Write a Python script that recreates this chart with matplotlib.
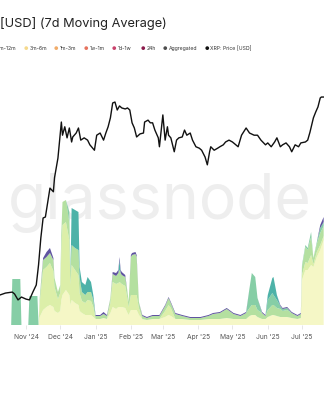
import matplotlib
matplotlib.use("Agg")
import matplotlib.pyplot as plt
import matplotlib.dates as mdates
import pandas as pd

plt.rcParams['font.family'] = ['Inter', 'DejaVu Sans']

# XRP price (USD)
price_dates = [
    "2024-10-08", "2024-10-09", "2024-10-14", "2024-10-20", "2024-10-22", "2024-10-25",
    "2024-10-28", "2024-11-01", "2024-11-04", "2024-11-07", "2024-11-10", "2024-11-12",
    "2024-11-14", "2024-11-16", "2024-11-18", "2024-11-22", "2024-11-25", "2024-11-26",
    "2024-11-29", "2024-12-02", "2024-12-03", "2024-12-05", "2024-12-07", "2024-12-09",
    "2024-12-11", "2024-12-12", "2024-12-15", "2024-12-17", "2024-12-19", "2024-12-22",
    "2024-12-25", "2024-12-27", "2024-12-31", "2025-01-02", "2025-01-05", "2025-01-08",
    "2025-01-10", "2025-01-12", "2025-01-14", "2025-01-16", "2025-01-18", "2025-01-20",
    "2025-01-22", "2025-01-24", "2025-01-27", "2025-01-29", "2025-01-31", "2025-02-02",
    "2025-02-04", "2025-02-06", "2025-02-09", "2025-02-12", "2025-02-13", "2025-02-16",
    "2025-02-18", "2025-02-20", "2025-02-22", "2025-02-25", "2025-02-26", "2025-03-01",
    "2025-03-03", "2025-03-05", "2025-03-06", "2025-03-08", "2025-03-11", "2025-03-13",
    "2025-03-15", "2025-03-18", "2025-03-20", "2025-03-22", "2025-03-25", "2025-03-27",
    "2025-03-30", "2025-04-02", "2025-04-04", "2025-04-07", "2025-04-09", "2025-04-11",
    "2025-04-12", "2025-04-15", "2025-04-18", "2025-04-20", "2025-04-23", "2025-04-25",
    "2025-04-28", "2025-05-01", "2025-05-03", "2025-05-06", "2025-05-09", "2025-05-13",
    "2025-05-16", "2025-05-20", "2025-05-23", "2025-05-26", "2025-05-30", "2025-06-01",
    "2025-06-04", "2025-06-07", "2025-06-09", "2025-06-12", "2025-06-14", "2025-06-17",
    "2025-06-20", "2025-06-22", "2025-06-25", "2025-06-28", "2025-06-30", "2025-07-04",
    "2025-07-06", "2025-07-08", "2025-07-11", "2025-07-13", "2025-07-15", "2025-07-17",
    "2025-07-18", "2025-07-21",
]
price_usd = [
    0.53, 0.530, 0.540, 0.545, 0.535, 0.506,
    0.520, 0.510, 0.506, 0.545, 0.583, 0.705,
    0.910, 1.10, 1.11, 1.46, 1.41, 1.61,
    1.94, 2.73, 2.41, 2.61, 2.35, 2.58,
    2.26, 2.37, 2.46, 2.58, 2.30, 2.35,
    2.30, 2.20, 2.09, 2.41, 2.46, 2.30,
    2.46, 2.61, 2.84, 3.27, 3.30, 3.06,
    3.18, 3.12, 3.09, 3.12, 3.06, 2.71,
    2.58, 2.37, 2.44, 2.46, 2.73, 2.78,
    2.71, 2.71, 2.53, 2.35, 2.16, 2.92,
    2.30, 2.61, 2.41, 2.35, 2.06, 2.30,
    2.35, 2.37, 2.53, 2.41, 2.46, 2.30,
    2.16, 2.13, 2.09, 1.96, 1.82, 2.06,
    2.16, 2.09, 2.13, 2.16, 2.20, 2.26,
    2.30, 2.26, 2.22, 2.16, 2.41, 2.58,
    2.46, 2.41, 2.41, 2.30, 2.20, 2.24,
    2.16, 2.26, 2.35, 2.16, 2.20, 2.24,
    2.16, 2.06, 2.20, 2.16, 2.24, 2.26,
    2.30, 2.48, 2.84, 3.00, 3.15, 3.43,
    3.46, 3.46,
]

# stacked cohort values [USD M], 7d moving average
area_dates = [
    "2024-10-19", "2024-10-20", "2024-10-27", "2024-10-28",
    "2024-11-03", "2024-11-04", "2024-11-11", "2024-11-12",
    "2024-11-13", "2024-11-16", "2024-11-19", "2024-11-22", "2024-11-25", "2024-11-26", "2024-11-29",
    "2024-12-01", "2024-12-02", "2024-12-03", "2024-12-06", "2024-12-09", "2024-12-10", "2024-12-11",
    "2024-12-14", "2024-12-17", "2024-12-18", "2024-12-20", "2024-12-23", "2024-12-25", "2024-12-28",
    "2024-12-30",
    "2025-01-01", "2025-01-05", "2025-01-08", "2025-01-11", "2025-01-14", "2025-01-16", "2025-01-19",
    "2025-01-21", "2025-01-22", "2025-01-23", "2025-01-24", "2025-01-27", "2025-01-29", "2025-01-30",
    "2025-02-01", "2025-02-02", "2025-02-05", "2025-02-06", "2025-02-08", "2025-02-11", "2025-02-15",
    "2025-02-20", "2025-02-26",
    "2025-03-03", "2025-03-06", "2025-03-08", "2025-03-12", "2025-03-18", "2025-03-25",
    "2025-04-03", "2025-04-10", "2025-04-14", "2025-04-20", "2025-04-26",
    "2025-05-02", "2025-05-08", "2025-05-13", "2025-05-16", "2025-05-18", "2025-05-21", "2025-05-23",
    "2025-05-27", "2025-05-30",
    "2025-06-01", "2025-06-05", "2025-06-06", "2025-06-09", "2025-06-12", "2025-06-14", "2025-06-18",
    "2025-06-22", "2025-06-27", "2025-06-30",
    "2025-07-01", "2025-07-04", "2025-07-06", "2025-07-09", "2025-07-11", "2025-07-14", "2025-07-17",
    "2025-07-20",
]
vol_6m_12m = [
    0, 0, 0, 0,
    0, 0, 0, 0,
    8, 15, 18, 20, 18, 14, 12,
    14, 25, 30, 35, 30, 20, 25,
    22, 20, 14, 12, 10, 10, 10,
    8,
    6, 6, 7, 6, 12, 18, 16,
    18, 18, 18, 18, 17, 12, 10,
    15, 15, 15, 15, 10, 6, 5,
    6, 6,
    8, 10, 9, 6, 6, 5,
    5, 6, 6, 6, 7,
    6, 6, 6, 9, 10, 10, 8,
    6, 6,
    8, 10, 10, 9, 8, 8, 8,
    7, 6, 7,
    45, 55, 55, 60, 58, 68, 75,
    85,
]
vol_1y_2y = [
    0, 0, 0, 0,
    0, 0, 0, 0,
    14, 40, 40, 42, 36, 24, 14,
    18, 50, 70, 68, 55, 20, 35,
    33, 30, 18, 12, 12, 15, 14,
    10,
    0, 0, 0, 0, 10, 25, 25,
    24, 25, 24, 23, 22, 14, 8,
    15, 15, 15, 15, 7, 0, 0,
    0, 0,
    6, 10, 8, 0, 0, 0,
    0, 0, 0, 0, 0,
    0, 0, 0, 0, 0, 0, 0,
    0, 0,
    0, 0, 0, 0, 0, 0, 0,
    0, 0, 0,
    5, 8, 7, 10, 3, 5, 5,
    4,
]
vol_2y_3y = [
    0, 0, 0, 0,
    0, 0, 0, 0,
    5, 10, 10, 10, 11, 9, 7,
    8, 18, 23, 22, 18, 13, 20,
    22, 25, 16, 9, 8, 8, 9,
    7,
    3, 3, 4, 3, 5, 8, 8,
    10, 12, 10, 9, 9, 7, 5,
    38, 40, 41, 38, 6, 3, 2,
    3, 3,
    5, 7, 5, 5, 3, 2,
    2, 3, 5, 6, 9,
    5, 3, 6, 8, 10, 10, 7,
    6, 3,
    7, 10, 10, 8, 8, 6, 7,
    5, 3, 4,
    8, 15, 13, 18, 6, 8, 12,
    10,
]
vol_3y_5y = [
    0, 46, 46, 0,
    0, 29, 29, 0,
    0, 0, 0, 0, 0, 0, 0,
    0, 0, 0, 0, 10, 0, 0,
    0, 0, 0, 0, 0, 0, 0,
    0,
    0, 0, 0, 0, 0, 0, 0,
    0, 0, 0, 0, 0, 0, 0,
    0, 0, 0, 0, 0, 0, 0,
    0, 0,
    0, 0, 0, 0, 0, 0,
    0, 0, 0, 0, 0,
    0, 0, 0, 20, 32, 28, 12,
    0, 0,
    10, 12, 10, 8, 3, 2, 2,
    0, 0, 0,
    2, 2, 2, 5, 0, 2, 5,
    4,
]
vol_5y_7y = [
    0, 0, 0, 0,
    0, 0, 0, 0,
    0, 0, 0, 0, 0, 0, 0,
    0, 0, 0, 0, 0, 0, 37,
    38, 38, 10, 10, 10, 15, 10,
    5,
    0, 0, 0, 0, 0, 0, 0,
    0, 10, 0, 0, 0, 0, 0,
    0, 0, 0, 0, 0, 0, 0,
    0, 0,
    0, 0, 0, 0, 0, 0,
    0, 0, 0, 0, 0,
    0, 0, 0, 0, 0, 0, 0,
    0, 0,
    5, 15, 18, 5, 0, 0, 0,
    0, 0, 0,
    0, 0, 0, 0, 0, 0, 0,
    0,
]
vol_7y_10y = [
    0, 0, 0, 0,
    0, 0, 0, 0,
    0, 2, 5, 5, 2, 0, 0,
    0, 0, 0, 0, 0, 0, 0,
    0, 0, 0, 0, 0, 0, 0,
    0,
    1, 1, 2, 1, 0, 2, 3,
    3, 3, 3, 3, 2, 0, 0,
    2, 2, 2, 2, 0, 1, 1,
    1, 1,
    1, 1, 1, 1, 1, 1,
    1, 1, 1, 1, 1,
    1, 1, 1, 0, 0, 0, 0,
    1, 1,
    0, 0, 0, 0, 1, 1, 1,
    1, 1, 1,
    0, 0, 0, 0, 0, 0, 3,
    5,
]
band_colors = ["#f5f7c6", "#dcefa9", "#b4e0a0", "#86cea6", "#4db2a8", "#5f54a0"]

month_ticks = pd.date_range("2024-10-01", "2025-07-01", freq="MS")

legend_labels = ["6m-12m", "3m-6m", "1m-3m", "1w-1m", "1d-1w", "24h",
                 "Aggregated", "XRP: Price [USD]"]
legend_colors = ["#f4f5c0", "#f5d98c", "#f1ac6a", "#e6735e", "#c9426c",
                 "#8c1b4c", "#4d4d4d", "#111111"]
legend_x = [-6.5, 25.7, 56, 86, 114, 143, 165, 207]

W, H = 324, 400
fig = plt.figure(figsize=(W / 100, H / 100), dpi=100)
fig.patch.set_facecolor("white")

ax = fig.add_axes([0, 75 / H, 1, 255 / H])
ax.set_facecolor("white")

adates = pd.to_datetime(area_dates)
ax.stackplot(adates, vol_6m_12m, vol_1y_2y, vol_2y_3y, vol_3y_5y,
             vol_5y_7y, vol_7y_10y, colors=band_colors, linewidth=0, zorder=2)

x0 = pd.Timestamp("2024-10-01") + pd.Timedelta(days=8.2)
x1 = pd.Timestamp("2024-10-01") + pd.Timedelta(days=292.3)
ax.set_xlim(x0, x1)
ax.set_ylim(0, 255)

for s in ax.spines.values():
    s.set_visible(False)
ax.set_yticks([])
ax.set_xticks(month_ticks)
ax.xaxis.set_major_formatter(mdates.DateFormatter("%b '%y"))
ax.tick_params(axis="x", length=3, width=0.6, color="#e2e2e2",
               labelsize=4.8, labelcolor="#555555", pad=3.5)

# watermark behind the data
ax.text(8 / W, 1 - 218 / H, "glassnode", transform=fig.transFigure,
        fontsize=45, fontweight="normal", color="#eeeeee",
        ha="left", va="baseline", zorder=0)

ax2 = ax.twinx()
ax2.plot(pd.to_datetime(price_dates), price_usd, color="#111111", lw=1.0)
ax2.set_yscale("log")
ax2.set_ylim(0.399, 4.47)
ax2.set_xlim(x0, x1)
ax2.axis("off")

fig.text(0.5 / W, 1 - 24 / H, "[USD] (7d Moving Average)", fontsize=9.2,
         color="#222222", ha="left", va="center")

for lx, lab, col in zip(legend_x, legend_labels, legend_colors):
    fig.text(lx / W, 1 - 48.7 / H, "\u25cf", fontsize=3.6, color=col,
             ha="center", va="center")
    fig.text((lx + 3.5) / W, 1 - 48.7 / H, lab, fontsize=3.7,
             color="#333333", ha="left", va="center")

fig.savefig("out.png", dpi=100)
